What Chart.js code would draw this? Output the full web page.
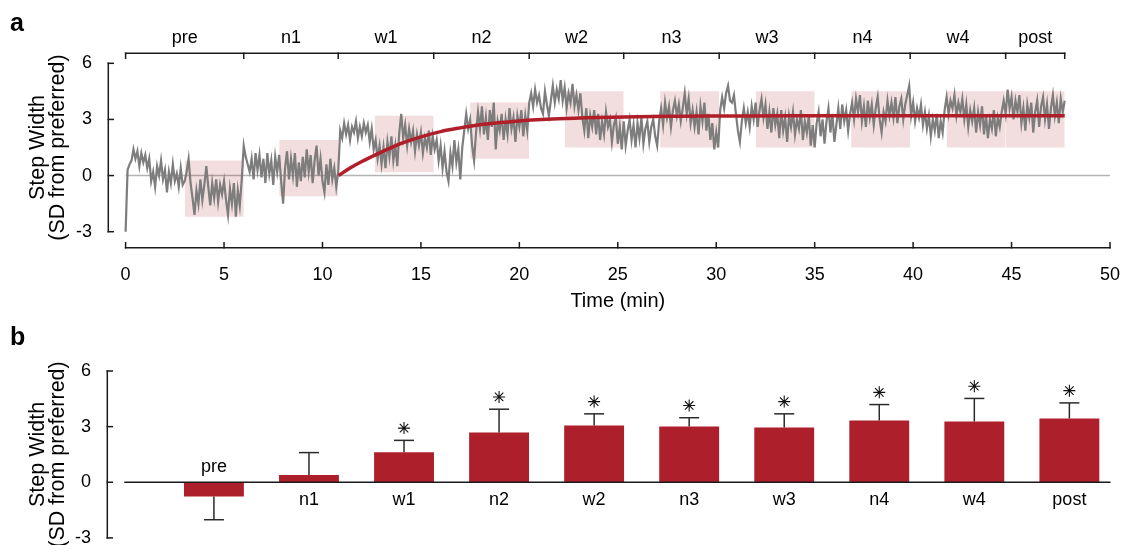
<!DOCTYPE html>
<html><head><meta charset="utf-8">
<script src="https://cdn.jsdelivr.net/npm/chart.js@4.4.1/dist/chart.umd.min.js"></script>
<style>
html,body{margin:0;padding:0;background:#fff;}
#wrap{position:relative;width:1124px;height:545px;overflow:hidden;background:#fff;}
canvas{position:absolute;left:0;}
#ca{top:0;} #cb{top:315px;}
</style></head><body>
<div id="wrap"><canvas id="ca" width="1124" height="315"></canvas><canvas id="cb" width="1124" height="230"></canvas></div>
<script>
// ---------- data ----------
const phases = ['pre','n1','w1','n2','w2','n3','w3','n4','w4','post'];
const phaseBounds = [0, 6.0, 10.8, 15.65, 20.5, 25.3, 30.15, 35.0, 39.85, 44.7, 47.7];
const windowStart = [3.0, 7.8, 12.65, 17.5, 22.3, 27.15, 32.0, 36.85, 41.7, 44.7];
const windowEnd   = [6.0, 10.8, 15.65, 20.5, 25.3, 30.15, 35.0, 39.85, 44.7, 47.7];
const windowLow   = [-2.2, -1.1, 0.18, 0.9, 1.5, 1.5, 1.5, 1.5, 1.5, 1.5];
const windowHigh  = [0.8, 1.9, 3.2, 3.9, 4.5, 4.5, 4.5, 4.5, 4.5, 4.5];
const sampleMinutes = 0.1;
const stepWidth = [
 -3.0, 0.3, 0.6, 0.8, 1.4, 0.9, 1.3, 0.5, 1.2, 0.7,
  1.1, 0.4, 0.9,-0.3, 0.2,-0.6, 0.5, 0.0, 0.8,-0.2,
  0.3,-0.9, 0.2,-0.4, 0.6,-0.3, 0.1,-0.6, 0.4,-0.5,
 -0.3, 0.2, 0.9,-0.4,-1.2,-2.1,-0.8,-1.5,-0.2,-1.3,
 -0.5, 0.5,-0.6,-1.6,-0.4,-1.2,-0.2,-1.4,-0.5,-1.0,
 -0.3,-1.3,-2.1,-0.7,-1.5,-0.4,-2.2,-0.8,-1.6,-0.2,
  1.6, 1.0, 0.6, 0.2, 0.9,-0.2, 1.2, 0.3, 1.1,-0.1,
  0.9,-0.4, 1.2, 0.1, 0.8,-0.5, 1.0, 0.2, 1.1,-0.3,
 -1.5, 0.4, 1.3,-0.2, 0.9, 0.0, 1.2,-0.6, 0.7,-0.3,
  1.0,-0.1, 1.4, 0.2, 1.1,-0.4, 0.8, 1.6, 0.0, 0.9,
 -0.3,-0.9, 0.6,-0.5, 0.9,-0.2, 0.4,-0.6, 0.2, 2.4,
  2.0, 2.8, 2.2, 2.7, 1.9, 2.6, 2.3, 2.9, 2.0, 2.6,
  2.1, 2.8, 2.3, 2.7, 1.8, 2.5, 1.4, 1.9, 0.9, 1.6,
  0.6, 1.5, 0.4, 1.8, 1.0, 2.1, 0.8, 1.6, 0.5, 2.3,
  3.3, 2.0, 2.7, 1.6, 2.5, 1.8, 2.4, 1.3, 2.2, 1.6,
  2.3, 1.2, 2.0, 1.5, 2.4, 1.1, 2.1, 1.4, 1.9, 0.8,
  1.6, 0.4, 1.3, 0.2,-0.3, 1.2, 0.5, 1.9, 0.7, 1.4,
 -0.2, 1.5, 2.4, 3.3, 2.5, 3.0, 1.6, 0.8, 2.3, 3.4,
  2.5, 3.7, 2.2, 3.1, 1.9, 3.5, 2.6, 3.9, 1.4, 2.9,
  2.4, 3.3, 1.9, 3.0, 2.2, 3.6, 2.5, 3.1, 1.8, 3.2,
  2.6, 3.5, 2.1, 3.2, 2.4, 3.9, 4.4, 3.7, 4.6, 3.9,
  4.3, 3.6, 3.3, 4.5, 3.8, 3.2, 4.0, 4.8, 3.9, 4.6,
  4.1, 5.1, 4.0, 4.7, 3.6, 4.4, 3.9, 4.9, 3.7, 4.3,
  3.5, 4.4, 3.1, 2.4, 3.6, 2.0, 3.2, 2.6, 3.5, 2.2,
  3.3, 1.9, 2.9, 2.2, 3.4, 2.6, 3.0, 1.8, 2.7, 3.1,
  1.7, 2.6, 1.4, 2.9, 1.6, 2.4, 3.0, 1.9, 2.7, 1.5,
  2.8, 2.0, 3.1, 1.7, 2.5, 2.9, 1.8, 2.6, 3.0, 2.1,
  1.6, 2.9, 3.6, 2.7, 3.9, 3.1, 3.7, 2.6, 3.5, 4.0,
  3.2, 3.8, 2.9, 3.6, 4.4, 3.3, 4.1, 2.8, 3.5, 2.6,
  3.4, 2.2, 3.7, 2.9, 3.9, 2.4, 3.3, 1.9, 2.8, 1.4,
  2.3, 1.5, 3.5, 4.2, 3.6, 4.4, 4.8, 4.0, 3.9, 4.3,
  3.3, 2.4, 1.8, 2.9, 3.6, 2.8, 3.4, 2.6, 3.7, 3.0,
  3.9, 2.6, 3.5, 4.1, 3.1, 3.8, 2.5, 3.4, 2.3, 3.6,
  2.7, 3.3, 2.0, 3.5, 2.4, 3.1, 1.8, 3.2, 2.6, 3.4,
  2.2, 3.0, 2.5, 3.5, 1.9, 2.9, 2.3, 3.2, 1.6, 2.7,
  1.5, 2.8, 3.4, 2.1, 3.0, 1.7, 2.9, 3.6, 2.3, 3.3,
  1.8, 2.7, 3.6, 2.5, 3.8, 2.9, 3.5, 2.4, 3.3, 3.9,
  3.0, 4.1, 3.4, 4.3, 2.9, 3.7, 2.6, 4.0, 3.1, 3.8,
  2.7, 3.6, 4.2, 3.0, 2.3, 3.4, 2.9, 4.0, 3.2, 3.9,
  3.1, 4.2, 2.8, 3.7, 4.1, 3.0, 3.8, 4.3, 4.8, 3.2,
  3.9, 2.9, 3.6, 3.1, 3.8, 2.7, 3.4, 2.5, 3.2, 2.1,
  3.0, 2.4, 3.3, 2.0, 2.9, 2.3, 3.5, 4.2, 3.3, 4.0,
  3.6, 4.3, 3.2, 3.9, 3.4, 4.1, 3.0, 3.8, 2.6, 3.5,
  2.9, 3.6, 2.3, 3.4, 2.7, 3.7, 2.2, 3.2, 2.0, 3.0,
  2.5, 3.5, 2.1, 3.1, 2.6, 3.4, 4.0, 3.3, 4.6, 3.6,
  4.2, 3.0, 4.0, 3.4, 4.3, 2.8, 3.6, 2.4, 3.8, 3.1,
  3.9, 2.3, 3.4, 4.0, 2.6, 3.7, 4.2, 3.0, 3.8, 2.5,
  3.6, 4.3, 3.2, 3.9, 2.8, 4.1, 3.4, 4.0
];
const fitTime  = [10.82, 11.2, 11.6, 12.0, 12.4, 12.8, 13.4, 14, 15, 16, 17, 18, 19, 20, 22, 24, 26, 28, 30, 34, 40, 47.7];
const fitValue = [0, 0.27, 0.52, 0.75, 0.96, 1.16, 1.45, 1.72, 2.07, 2.35, 2.55, 2.72, 2.83, 2.92, 3.03, 3.1, 3.15, 3.17, 3.18, 3.2, 3.2, 3.2];
const xTicks = [0, 5, 10, 15, 20, 25, 30, 35, 40, 45, 50];
const yTicks = [-3, 0, 3, 6];
const barMean = [-0.77, 0.39, 1.62, 2.69, 3.06, 3.01, 2.96, 3.33, 3.28, 3.44];
const barSD   = [1.25, 1.21, 0.64, 1.25, 0.63, 0.47, 0.73, 0.86, 1.24, 0.84];
const significant = [false, false, true, true, true, true, true, true, true, true];

// ---------- styles ----------
const FONT = "'Liberation Sans', Arial, Helvetica, sans-serif";
Chart.defaults.font.family = FONT;
Chart.defaults.color = '#000';
const RED = '#ad1f2b';
const AXIS = '#1a1a1a';

function seg(ctx, x1, y1, x2, y2){ ctx.beginPath(); ctx.moveTo(x1, y1); ctx.lineTo(x2, y2); ctx.stroke(); }
function noPad(s){ s.paddingTop = 0; s.paddingBottom = 0; s.paddingLeft = 0; s.paddingRight = 0; }

// ---------- panel a ----------
const traceData = stepWidth.map((v, i) => ({x: Math.round(i * sampleMinutes * 100) / 100, y: v}));
const fitData = fitTime.map((t, i) => ({x: t, y: fitValue[i]}));
const windowSets = phases.map((p, i) => ({
  label: 'win ' + p,
  data: [{x: windowStart[i], y: windowHigh[i]}, {x: windowEnd[i], y: windowHigh[i]}],
  fill: {value: windowLow[i]},
  backgroundColor: 'rgba(173,31,43,0.15)',
  borderWidth: 0, pointRadius: 0, order: 3
}));

const frameA = {
  id: 'frameA',
  beforeDatasetsDraw(chart){
    const {ctx, scales: {x, y}} = chart;
    ctx.save();
    ctx.strokeStyle = '#b3b3b3'; ctx.lineWidth = 1.5;
    seg(ctx, x.getPixelForValue(0), y.getPixelForValue(0), x.getPixelForValue(50), y.getPixelForValue(0));
    ctx.restore();
  },
  afterDraw(chart){
    const {ctx, chartArea: ca, scales: {x, y}} = chart;
    ctx.save();
    ctx.strokeStyle = AXIS; ctx.lineWidth = 1.5; ctx.lineCap = 'square';
    const tk = 5;
    const yb = ca.bottom + 16;
    seg(ctx, x.getPixelForValue(xTicks[0]), yb, x.getPixelForValue(xTicks[xTicks.length-1]), yb);
    xTicks.forEach(v => { const p = x.getPixelForValue(v); seg(ctx, p, yb, p, yb - tk); });
    const yt = ca.top - 10;
    seg(ctx, x.getPixelForValue(phaseBounds[0]), yt, x.getPixelForValue(phaseBounds[phaseBounds.length-1]), yt);
    phaseBounds.forEach(v => { const p = x.getPixelForValue(v); seg(ctx, p, yt, p, yt + tk); });
    const xa = ca.left - 17.3;
    seg(ctx, xa, y.getPixelForValue(yTicks[yTicks.length-1]), xa, y.getPixelForValue(yTicks[0]));
    yTicks.forEach(v => { const p = y.getPixelForValue(v); seg(ctx, xa, p, xa + tk, p); });
    ctx.fillStyle = '#000';
    ctx.font = '18px ' + FONT; ctx.textAlign = 'center'; ctx.textBaseline = 'middle';
    phases.forEach((p, i) => {
      ctx.fillText(p, x.getPixelForValue((phaseBounds[i] + phaseBounds[i+1]) / 2), 38);
    });
    ctx.font = 'bold 25px ' + FONT; ctx.textAlign = 'left'; ctx.textBaseline = 'alphabetic';
    ctx.fillText('a', 10, 30.5);
    ctx.restore();
  }
};

new Chart(document.getElementById('ca'), {
  type: 'line',
  data: {datasets: [
    {label: 'fit', data: fitData, borderColor: '#b01e29', borderWidth: 3.5, pointRadius: 0,
     cubicInterpolationMode: 'monotone', order: 0, clip: false},
    {label: 'trace', data: traceData, borderColor: '#7d7d7d', borderWidth: 2.2, pointRadius: 0,
     tension: 0, order: 1, clip: false},
    ...windowSets
  ]},
  options: {
    responsive: false, animation: false, events: [],
    plugins: {legend: {display: false}, tooltip: {enabled: false}},
    layout: {padding: {top: 63.3, right: 14, bottom: 0, left: 0}},
    scales: {
      x: {type: 'linear', min: 0, max: 50,
          afterFit(s){ s.height = 83.3; noPad(s); },
          afterBuildTicks(s){ s.ticks = xTicks.map(v => ({value: v})); },
          grid: {display: false}, border: {display: false},
          ticks: {padding: 24.2, font: {size: 18}, color: '#000', maxRotation: 0, autoSkip: false},
          title: {display: true, text: 'Time (min)', font: {size: 20}, color: '#000', padding: {top: 0, bottom: 1.3}}},
      y: {type: 'linear', min: -3, max: 6,
          afterFit(s){ s.width = 125.6; noPad(s); },
          afterBuildTicks(s){ s.ticks = yTicks.map(v => ({value: v})); },
          grid: {display: false}, border: {display: false},
          ticks: {padding: 25.6, font: {size: 18}, color: '#000'},
          title: {display: true, text: ['Step Width', '(SD from preferred)'], font: {size: 21.5, lineHeight: 0.93},
                  color: '#000', padding: {top: 28, bottom: 0}}}
    }
  },
  plugins: [frameA]
});

// ---------- panel b ----------
const sigY = barMean.map((m, i) => significant[i] ? m + Math.sign(m) * barSD[i] + 0.66 : null);

const frameB = {
  id: 'frameB',
  afterDatasetsDraw(chart){
    const {ctx, scales: {y}} = chart;
    const bars = chart.getDatasetMeta(1).data;
    ctx.save();
    ctx.strokeStyle = '#2a2a2a'; ctx.lineWidth = 1.5;
    bars.forEach((b, i) => {
      const m = barMean[i];
      const y0 = y.getPixelForValue(m);
      const y1 = y.getPixelForValue(m + Math.sign(m) * barSD[i]);
      seg(ctx, b.x, y0, b.x, y1);
      seg(ctx, b.x - 10, y1, b.x + 10, y1);
    });
    ctx.strokeStyle = AXIS; ctx.lineWidth = 1.5;
    const y0 = y.getPixelForValue(0);
    seg(ctx, 124.3, y0, 1110.5, y0);
    ctx.restore();
  },
  afterDraw(chart){
    const {ctx, scales: {y}} = chart;
    const bars = chart.getDatasetMeta(1).data;
    ctx.save();
    ctx.strokeStyle = AXIS; ctx.lineWidth = 1.5; ctx.lineCap = 'square';
    const xa = 107.3, tk = 5;
    seg(ctx, xa, y.getPixelForValue(yTicks[yTicks.length-1]), xa, y.getPixelForValue(yTicks[0]));
    yTicks.forEach(v => { const p = y.getPixelForValue(v); seg(ctx, xa, p, xa + tk, p); });
    ctx.fillStyle = '#000';
    ctx.font = '18px ' + FONT; ctx.textAlign = 'center'; ctx.textBaseline = 'middle';
    const y0 = y.getPixelForValue(0);
    bars.forEach((b, i) => {
      ctx.fillText(phases[i], b.x, barMean[i] >= 0 ? y0 + 17.7 : y0 - 15.6);
    });
    ctx.font = 'bold 25px ' + FONT; ctx.textAlign = 'left'; ctx.textBaseline = 'alphabetic';
    ctx.fillText('b', 10, 30);
    ctx.restore();
  }
};

new Chart(document.getElementById('cb'), {
  type: 'bar',
  data: {labels: phases, datasets: [
    {type: 'line', label: 'sig', data: sigY, showLine: false, pointStyle: 'star', pointRadius: 6,
     borderColor: '#111', backgroundColor: '#111', pointBorderWidth: 1.1, order: 0, clip: false},
    {type: 'bar', label: 'mean', data: barMean, backgroundColor: RED, barPercentage: 0.63,
     categoryPercentage: 1, order: 1}
  ]},
  options: {
    responsive: false, animation: false, events: [],
    plugins: {legend: {display: false}, tooltip: {enabled: false}},
    layout: {padding: {top: 56, right: 6.4, bottom: 5.7, left: 0}},
    scales: {
      x: {display: false, offset: true, afterFit(s){ noPad(s); }},
      y: {type: 'linear', min: -3, max: 6,
          afterFit(s){ s.width = 166.4; noPad(s); },
          afterBuildTicks(s){ s.ticks = yTicks.map(v => ({value: v})); },
          grid: {display: false}, border: {display: false},
          ticks: {padding: 67.4, font: {size: 18}, color: '#000'},
          title: {display: true, text: ['Step Width', '(SD from preferred)'], font: {size: 21.5, lineHeight: 0.93},
                  color: '#000', padding: {top: 28, bottom: 0}}}
    }
  },
  plugins: [frameB]
});
</script>
</body></html>
